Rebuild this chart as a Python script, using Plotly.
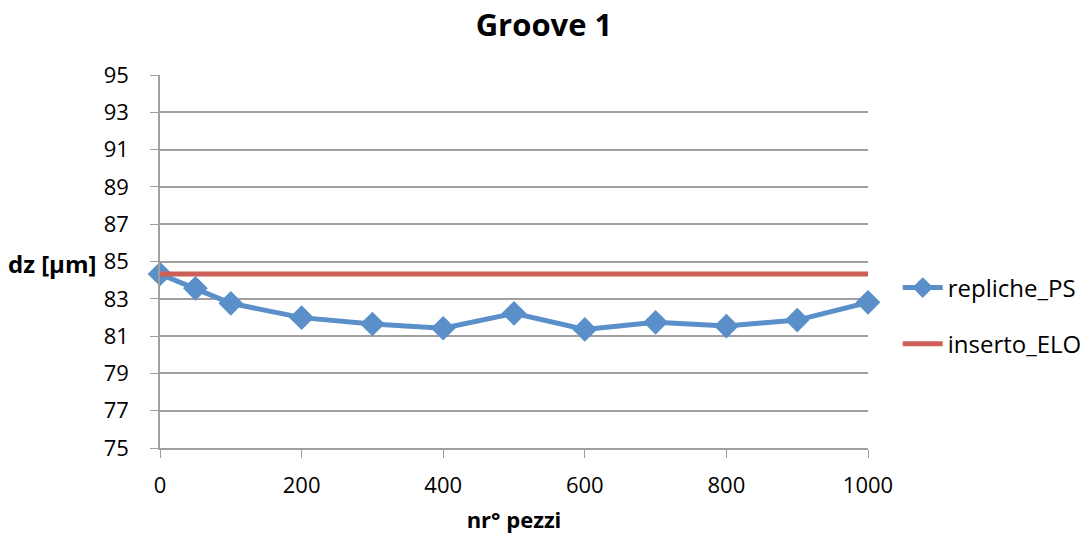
import plotly.graph_objects as go

x_ps = [0, 50, 100, 200, 300, 400, 500, 600, 700, 800, 900, 1000]
y_ps = [84.33, 83.56, 82.76, 81.99, 81.65, 81.42, 82.22, 81.36, 81.74, 81.54, 81.86, 82.81]
x_elo = [0, 1000]
y_elo = [84.33, 84.33]

y_ticks = [75, 77, 79, 81, 83, 85, 87, 89, 91, 93, 95]
x_ticks = [0, 200, 400, 600, 800, 1000]

font_family = "Open Sans, Liberation Sans, sans-serif"

fig = go.Figure()
fig.add_trace(go.Scatter(
    x=x_ps, y=y_ps, name="repliche_PS", mode="lines+markers",
    legendgroup="ps",
    line=dict(color="#5A8FC9", width=5),
    marker=dict(symbol="diamond", size=19, color="#5A8FC9"),
    cliponaxis=False,
))
fig.add_trace(go.Scatter(
    x=x_elo, y=y_elo, name="inserto_ELO", mode="lines",
    legendgroup="elo",
    line=dict(color="#CD5F58", width=5),
    cliponaxis=False,
))

fig.update_layout(
    width=1088, height=542,
    paper_bgcolor="white", plot_bgcolor="white",
    margin=dict(l=160, r=220, t=75, b=94, autoexpand=False),
    font=dict(family=font_family, size=22, color="black"),
    title=dict(text="<b>Groove 1</b>", x=0.5, xanchor="center", y=0.953, yanchor="middle",
               font=dict(size=31)),
    showlegend=True,
    legend=dict(x=1.042, y=0.354, xanchor="left", yanchor="middle",
                font=dict(size=24), tracegroupgap=22, itemwidth=40),
    xaxis=dict(range=[0, 1000], tickvals=x_ticks, showgrid=False, automargin=False,
               showline=True, linecolor="#A0A0A0", linewidth=1.5,
               ticks="outside", ticklen=8, tickcolor="#A0A0A0", ticklabelstandoff=9,
               title=dict(text="<b>nr° pezzi</b>", font=dict(size=22), standoff=14),
               zeroline=False),
    yaxis=dict(range=[75, 95], tickvals=y_ticks, showgrid=True, gridcolor="#A0A0A0",
               automargin=False,
               gridwidth=1.5, showline=True, linecolor="#A0A0A0", linewidth=1.5,
               ticks="outside", ticklen=8, tickcolor="#A0A0A0", ticklabelstandoff=17,
               zeroline=False),
)

fig.add_annotation(text="<b>dz [µm]</b>", xref="paper", yref="paper",
                   x=-0.153, y=(263 - 448) / (75 - 448), xanchor="center", yanchor="middle",
                   showarrow=False, font=dict(size=24))

fig.write_html("out.html")
